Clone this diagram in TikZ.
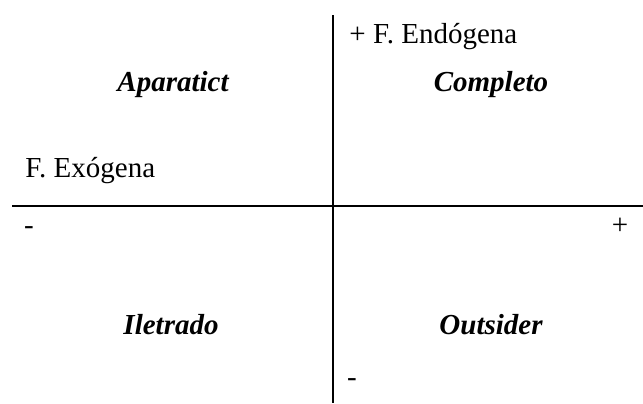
\documentclass[tikz,border=0pt]{standalone}
\usepackage{fontspec}
\setmainfont{Liberation Serif}
\usetikzlibrary{positioning}

\begin{document}
\begin{tikzpicture}[x=0.5pt,y=-0.5pt,
    txt/.style={inner sep=0pt,font=\fontsize{14.5}{17}\selectfont},
    quad/.style={txt,anchor=base,font=\fontsize{14.5}{17}\selectfont\bfseries\itshape}]
    \useasboundingbox (0,0) rectangle (643,403);
    \coordinate (T) at (333,15); \coordinate (B) at (333,403);
    \coordinate (L) at (12,206); \coordinate (R) at (643,206);
    \draw[line width=1.1pt] (T) -- (B);
    \draw[line width=1.1pt] (L) -- (R);
    % quadrant names
    \foreach \t/\x/\y [count=\n] in {Aparatict/173/91,Completo/491/91,Iletrado/171/334,Outsider/491/334}
        \node[quad](Q\n) at (\x,\y){\t};
    % axis labels
    \node[txt,anchor=base west](endo) at (349,43){+ F. Endógena};
    \node[txt,anchor=base west](exo) at (25,177){F. Exógena};
    \node[txt,anchor=base](xmin) at (29,234){-};
    \node[txt,anchor=base](xmax) at (620,234){+};
    \node[txt,anchor=base](ymin) at (352,386){-};
\end{tikzpicture}
\end{document}
